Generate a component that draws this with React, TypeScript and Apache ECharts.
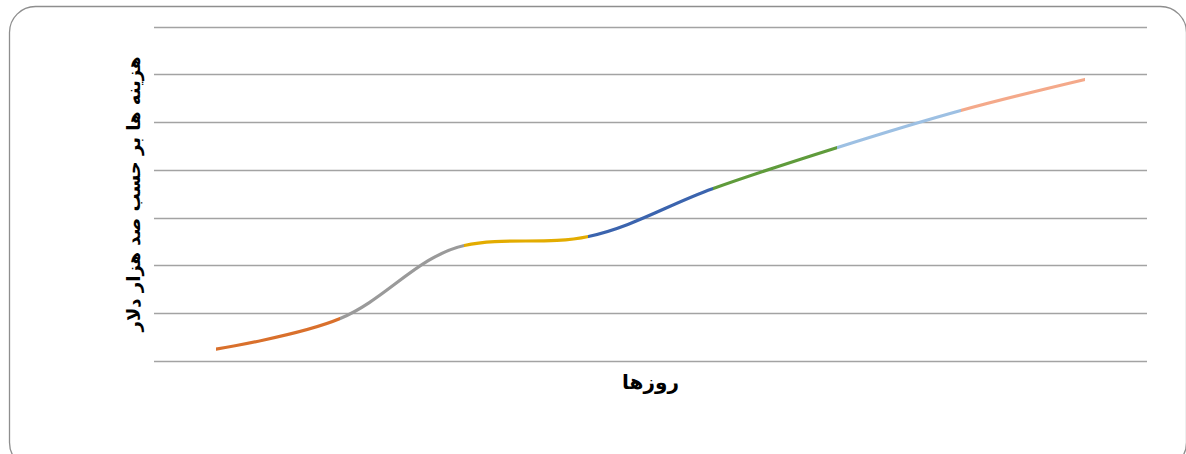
import React, { useEffect, useRef } from "react";
import * as echarts from "echarts";

// Days on the category axis (unlabelled), cost in hundred-thousand dollars
const days = ["1", "2", "3", "4", "5", "6", "7", "8"];
const costs = [0.25, 0.89, 2.42, 2.61, 3.61, 4.47, 5.25, 5.9];
// One colour per segment between consecutive days
const segmentColors = [
  "#d9702c",
  "#9a9a9a",
  "#e3ac00",
  "#3b64ae",
  "#5f9b3b",
  "#9dc0e3",
  "#f4a98a",
];
const yAxisTitle = "هزینه ها بر حسب صد هزار دلار";
const xAxisTitle = "روزها";

export default function App() {
  const ref = useRef<HTMLDivElement>(null);

  useEffect(() => {
    if (!ref.current) return;
    const chart = echarts.init(ref.current, undefined, { renderer: "svg" });
    const pieces = segmentColors.map((color, i) =>
      i === segmentColors.length - 1
        ? { gte: i, lte: i + 1, color }
        : { gte: i, lt: i + 1, color }
    );
    chart.setOption({
      animation: false,
      backgroundColor: "#ffffff",
      grid: { left: 154, right: 39, top: 27, bottom: 93 },
      graphic: [
        {
          type: "rect",
          left: 7,
          top: 4,
          shape: { width: 1177, height: 462, r: 26 },
          style: { fill: "none", stroke: "#8e8e8e", lineWidth: 1.3 },
          silent: true,
        },
      ],
      visualMap: {
        show: false,
        type: "piecewise",
        seriesIndex: 0,
        dimension: 0,
        pieces,
      },
      xAxis: {
        type: "category",
        data: days,
        boundaryGap: true,
        axisLine: { show: false },
        axisTick: { show: false },
        axisLabel: { show: false },
        name: xAxisTitle,
        nameLocation: "middle",
        nameGap: 11,
        nameTextStyle: {
          fontFamily: "DejaVu Sans",
          fontWeight: "bold",
          fontSize: 20,
          color: "#000000",
        },
      },
      yAxis: {
        type: "value",
        min: 0,
        max: 7,
        interval: 1,
        axisLine: { show: false },
        axisTick: { show: false },
        axisLabel: { show: false },
        splitLine: { lineStyle: { color: "#a3a3a3", width: 1.3 } },
        name: yAxisTitle,
        nameLocation: "middle",
        nameGap: 12,
        nameTextStyle: {
          fontFamily: "DejaVu Sans",
          fontWeight: "bold",
          fontSize: 18,
          color: "#000000",
        },
      },
      series: [
        {
          type: "line",
          data: costs,
          smooth: 0.35,
          showSymbol: false,
          symbol: "none",
          lineStyle: { width: 3.2, cap: "round" },
        },
      ],
    });
    return () => chart.dispose();
  }, []);

  return (
    <div
      ref={ref}
      style={{ position: "absolute", left: 0, top: 0, width: 1186, height: 454 }}
    />
  );
}
